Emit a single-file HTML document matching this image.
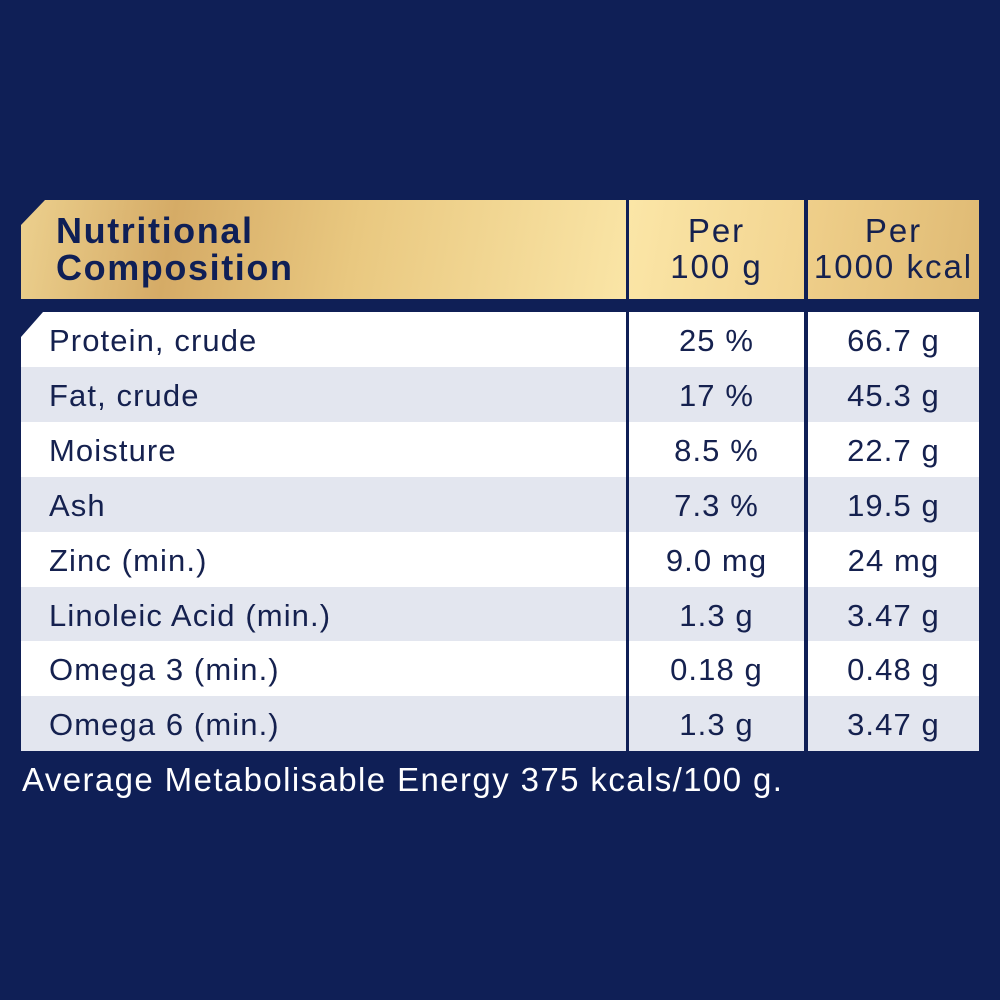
<!DOCTYPE html>
<html><head><style>
body{margin:0;width:1000px;height:1000px;background:#0f1f56;font-family:"Liberation Sans",sans-serif;position:relative;overflow:hidden;color:#15214f}
.a{position:absolute}
.h{top:200px;height:99px}
.r{height:55px;font-size:31px;line-height:57px;letter-spacing:1.1px}
.c{text-align:center}
</style></head><body>
<div class="a h" style="left:21px;width:605px;background:linear-gradient(100deg,#ecd08e 0%,#d5ab66 25%,#e9c880 55%,#fae5a6 100%);clip-path:polygon(24px 0,100% 0,100% 100%,0 100%,0 25px)"></div>
<div class="a h" style="left:629px;width:175px;background:linear-gradient(100deg,#fbe6a7,#f2d490)"></div>
<div class="a h" style="left:808px;width:171px;background:linear-gradient(100deg,#efcf8a,#dfba74)"></div>
<div class="a" style="left:56px;top:212px;font-size:36px;font-weight:bold;line-height:37px;letter-spacing:1.6px;color:#0f1f56">Nutritional<br>Composition</div>
<div class="a c" style="left:629px;width:175px;top:213px;font-size:33px;line-height:36px;letter-spacing:2px">Per<br>100 g</div>
<div class="a c" style="left:806px;width:175px;top:213px;font-size:33px;line-height:36px;letter-spacing:2px">Per<br>1000 kcal</div>
<div id="rows"></div>
<script>
var d=[["Protein, crude","25 %","66.7 g"],["Fat, crude","17 %","45.3 g"],["Moisture","8.5 %","22.7 g"],["Ash","7.3 %","19.5 g"],["Zinc (min.)","9.0 mg","24 mg"],["Linoleic Acid (min.)","1.3 g","3.47 g"],["Omega 3 (min.)","0.18 g","0.48 g"],["Omega 6 (min.)","1.3 g","3.47 g"]];
var h="";
d.forEach(function(r,i){var t=312+i*54.9,bg=i%2?"#e3e6ef":"#fff";
var cp=i==0?"clip-path:polygon(22px 0,100% 0,100% 100%,0 100%,0 25px);":"";
h+='<div class="a r" style="left:21px;width:605px;top:'+t+'px;background:'+bg+';'+cp+'"><span style="padding-left:28px">'+r[0]+'</span></div>';
h+='<div class="a r c" style="left:629px;width:175px;top:'+t+'px;background:'+bg+'">'+r[1]+'</div>';
h+='<div class="a r c" style="left:808px;width:171px;top:'+t+'px;background:'+bg+'">'+r[2]+'</div>';});
document.getElementById("rows").innerHTML=h;
</script>
<div class="a" style="left:22px;top:761px;font-size:33px;letter-spacing:1.4px;color:#fff">Average Metabolisable Energy 375 kcals/100 g.</div>
</body></html>
